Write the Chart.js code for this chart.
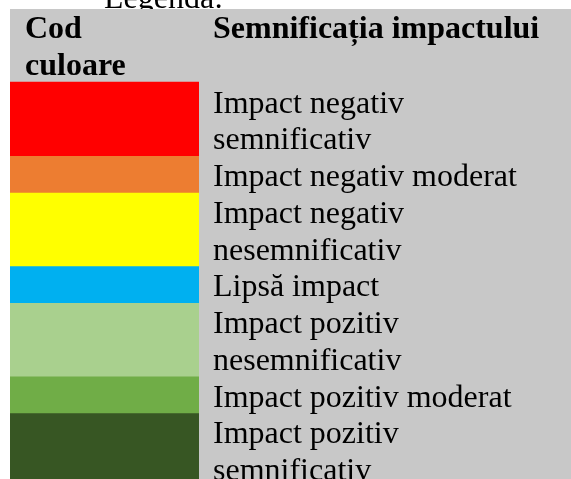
<!DOCTYPE html>
<html>
<head>
<meta charset="utf-8">
<script src="https://cdn.jsdelivr.net/npm/chart.js@4.4.1/dist/chart.umd.min.js"></script>
<style>
html,body{margin:0;padding:0;background:#ffffff;overflow:hidden;}
canvas{display:block;}
</style>
</head>
<body>
<canvas id="c" width="571" height="479"></canvas>
<script>
// ---- data ----
const titleText = "Legenda:";
const headerLeft = ["Cod", "culoare"];
const headerRight = ["Semnificația impactului"];
const categories = [
  ["Impact negativ", "semnificativ"],
  ["Impact negativ moderat"],
  ["Impact negativ", "nesemnificativ"],
  ["Lipsă impact"],
  ["Impact pozitiv", "nesemnificativ"],
  ["Impact pozitiv moderat"],
  ["Impact pozitiv", "semnificativ"]
];
const rowLines = [2, 1, 2, 1, 2, 1, 2];
const colors = ["#FF0000", "#ED7D31", "#FFFF00", "#00B0F0", "#A9D08E", "#70AD47", "#375623"];
const headerLines = 1.985;
const visibleLines = 12.78;

const FONT = "'Liberation Serif', 'Times New Roman', serif";

const tablePlugin = {
  id: 'tablePlugin',
  beforeDraw(chart) {
    const ctx = chart.ctx;
    const y = chart.scales.y;
    const top = y.getPixelForValue(-headerLines);
    ctx.save();
    ctx.fillStyle = '#000000';
    ctx.font = '32px ' + FONT;
    ctx.textBaseline = 'alphabetic';
    ctx.fillText(titleText, 104, top - 1.5);
    ctx.fillStyle = '#C8C8C8';
    ctx.fillRect(chart.chartArea.left, top, chart.width - chart.chartArea.left, chart.height - top);
    ctx.restore();
  },
  afterDatasetsDraw(chart) {
    const ctx = chart.ctx;
    const y = chart.scales.y;
    const lineH = y.getPixelForValue(1) - y.getPixelForValue(0);
    const textX = 213;
    const top = y.getPixelForValue(-headerLines);
    ctx.save();
    ctx.fillStyle = '#000000';
    ctx.textBaseline = 'alphabetic';
    ctx.font = 'bold 32px ' + FONT;
    headerLeft.forEach((t, k) => ctx.fillText(t, 25, top + 29 + k * lineH));
    headerRight.forEach((t, k) => ctx.fillText(t, textX, top + 29 + k * lineH));
    ctx.font = '32px ' + FONT;
    chart.data.datasets.forEach((ds, i) => {
      const bar = chart.getDatasetMeta(i).data[0];
      const rowTop = Math.min(bar.y, bar.base);
      categories[i].forEach((t, k) => ctx.fillText(t, textX, rowTop + 30.5 + k * lineH));
    });
    ctx.restore();
  }
};

new Chart(document.getElementById('c'), {
  type: 'bar',
  data: {
    labels: ['Cod culoare'],
    datasets: categories.map((c, i) => ({
      label: c.join(' '),
      data: [rowLines[i]],
      backgroundColor: colors[i],
      borderWidth: 0,
      barPercentage: 1,
      categoryPercentage: 1
    }))
  },
  options: {
    responsive: false,
    devicePixelRatio: 1,
    animation: false,
    layout: { padding: { top: 9, left: 10, right: 372, bottom: 0 } },
    plugins: { legend: { display: false }, tooltip: { enabled: false } },
    scales: {
      x: { display: false, stacked: true },
      y: { display: false, stacked: true, reverse: true, min: -headerLines, max: visibleLines - headerLines }
    }
  },
  plugins: [tablePlugin]
});
</script>
</body>
</html>
